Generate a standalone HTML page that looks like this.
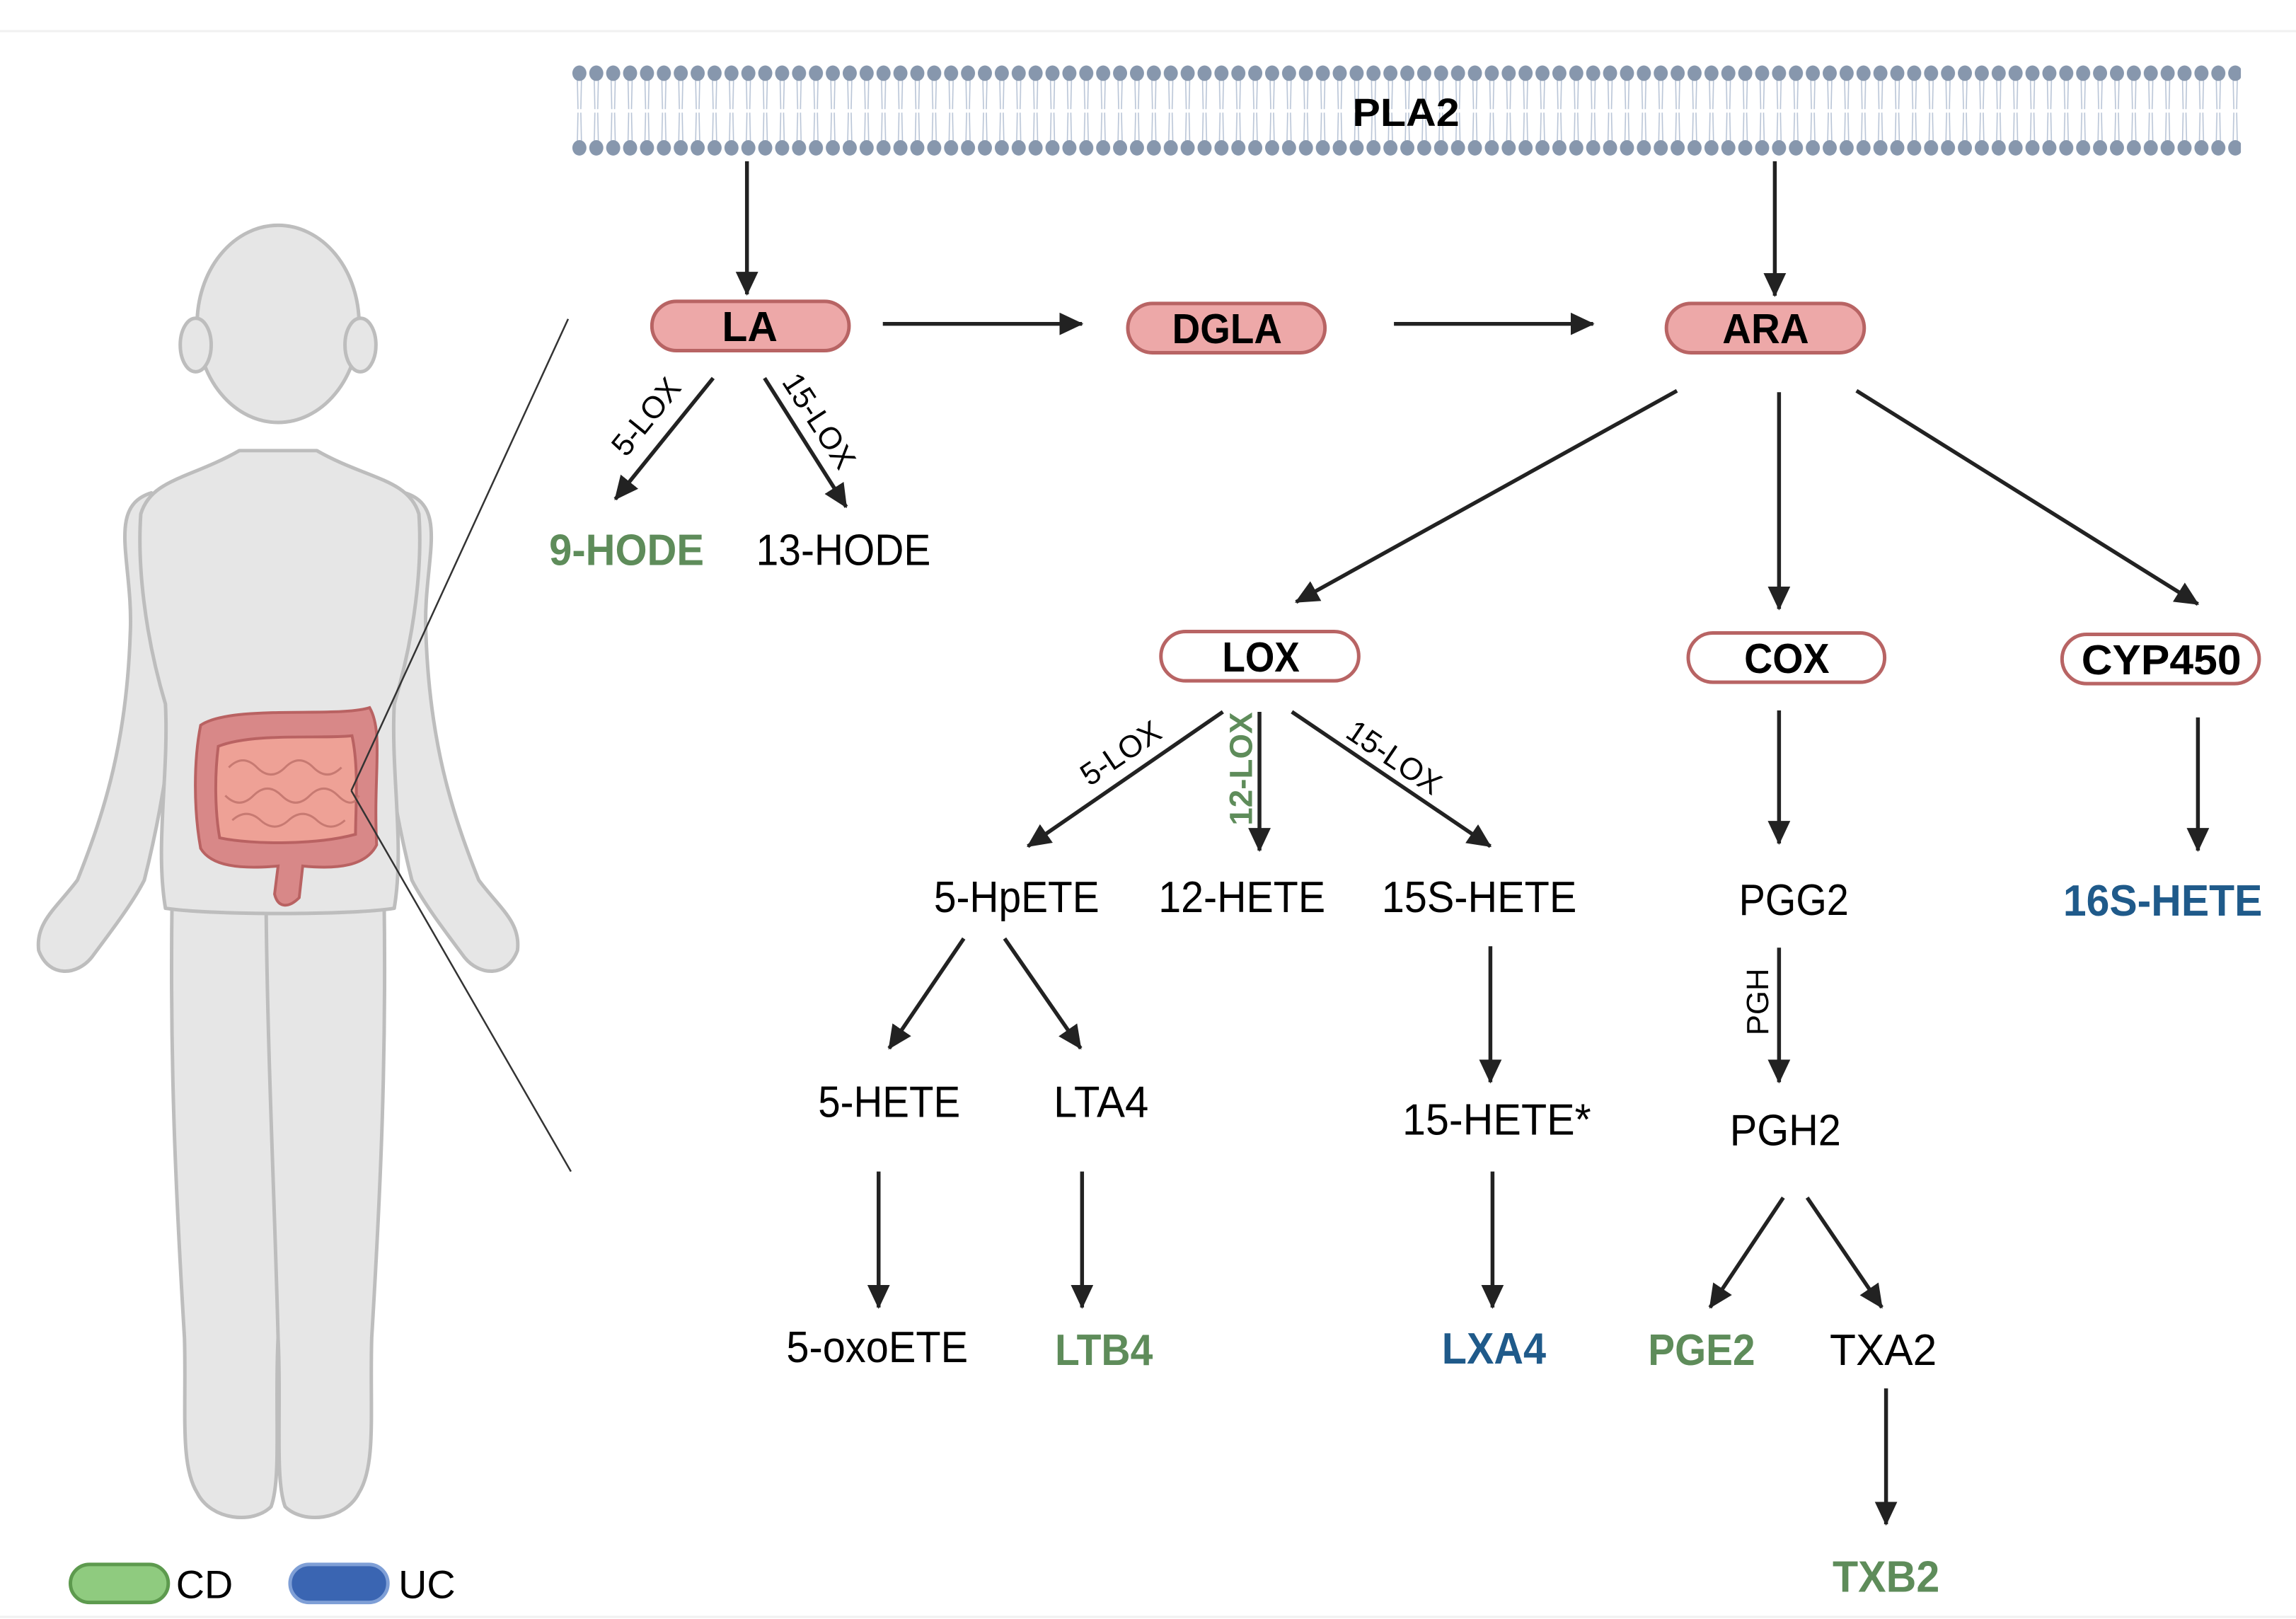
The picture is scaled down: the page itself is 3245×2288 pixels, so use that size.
<!DOCTYPE html>
<html><head><meta charset="utf-8">
<style>html,body{margin:0;padding:0;background:#fff}svg{display:block}</style></head>
<body>
<svg xmlns="http://www.w3.org/2000/svg" width="3245" height="2288" viewBox="0 0 3245 2288" font-family="'Liberation Sans', sans-serif">
<defs>
<marker id="ah" markerUnits="userSpaceOnUse" markerWidth="36" markerHeight="36" refX="32" refY="16" orient="auto">
<path d="M0,0 L34,16 L0,32 Z" fill="#222"/>
</marker>
<pattern id="mem" x="811" y="0" width="24" height="300" patternUnits="userSpaceOnUse">
<path d="M9,110 L10,155 M15,110 L14,155 M9,205 L10,160 M15,205 L14,160" stroke="#b8c4d6" stroke-width="1.6" fill="none"/>
<ellipse cx="12" cy="104" rx="10" ry="11" fill="#8797ad"/>
<ellipse cx="12" cy="210" rx="10" ry="11" fill="#8797ad"/>
</pattern>
</defs>
<line x1="0" y1="44" x2="3245" y2="44" stroke="#f0f0f0" stroke-width="3"/>
<line x1="0" y1="2285" x2="3245" y2="2285" stroke="#f0f0f0" stroke-width="3"/>
<g transform="scale(0.995)">
<!-- membrane -->
<rect x="811" y="88" width="2372" height="136" fill="url(#mem)"/>
<text x="1997" y="160" font-size="56" font-weight="bold" text-anchor="middle" dominant-baseline="central" textLength="152" lengthAdjust="spacingAndGlyphs">PLA2</text>

<!-- child -->
<g fill="#e6e6e6" stroke="#bdbdbd" stroke-width="5" stroke-linejoin="round">
<path d="M245,1240 C240,1500 250,1700 262,1900 C265,2000 255,2080 280,2120 C300,2160 360,2165 385,2140 C400,2100 390,2000 395,1900 C400,1700 410,1500 412,1290 Z"/>
<path d="M545,1240 C550,1500 540,1700 528,1900 C525,2000 535,2080 510,2120 C490,2160 430,2165 405,2140 C390,2100 400,2000 395,1900 C390,1700 380,1500 378,1290 Z"/>
<path d="M215,700 C150,720 190,800 185,900 C180,1050 150,1150 110,1250 C80,1290 50,1310 55,1350 C70,1390 110,1385 130,1360 C160,1320 190,1280 205,1250 C230,1150 245,1050 250,960 Z"/>
<path d="M575,700 C640,720 600,800 605,900 C610,1050 640,1150 680,1250 C710,1290 740,1310 735,1350 C720,1390 680,1385 660,1360 C630,1320 600,1280 585,1250 C560,1150 545,1050 540,960 Z"/>
<path d="M340,640 L450,640 C520,680 580,680 595,730 C600,800 590,900 560,1000 C555,1100 575,1200 560,1290 C500,1300 300,1300 235,1290 C220,1200 240,1100 235,1000 C205,900 195,800 200,730 C215,680 270,680 340,640 Z"/>
<ellipse cx="395" cy="460" rx="115" ry="140"/>
<ellipse cx="278" cy="490" rx="22" ry="38"/>
<ellipse cx="512" cy="490" rx="22" ry="38"/>
</g>
<g fill="#e6e6e6"><rect x="250" y="960" width="300" height="300"/></g>
<!-- intestine -->
<g stroke="#b96262" stroke-width="4">
<path d="M285,1030 C330,1000 480,1020 525,1005 C545,1040 530,1100 535,1200 C520,1230 480,1235 430,1230 L425,1275 C410,1290 395,1290 390,1270 L395,1230 C340,1235 300,1230 285,1205 C275,1150 275,1080 285,1030 Z" fill="#d88888"/>
<path d="M310,1060 C360,1040 460,1050 500,1045 C510,1090 505,1150 505,1185 C450,1200 360,1200 312,1190 C305,1150 305,1100 310,1060 Z" fill="#eea196"/>
</g>
<g stroke="#c77a72" stroke-width="3" fill="none">
<path d="M325,1090 q20,-20 40,0 t40,0 t40,0 t40,0"/>
<path d="M320,1130 q20,20 40,0 t40,0 t40,0 t40,0 t30,0"/>
<path d="M330,1165 q20,-18 40,0 t40,0 t40,0 t40,0"/>
</g>
<line x1="807" y1="453" x2="499" y2="1123" stroke="#333" stroke-width="2.5"/>
<line x1="499" y1="1123" x2="811" y2="1664" stroke="#333" stroke-width="2.5"/>

<!-- legend -->
<rect x="100" y="2222" width="139" height="54" rx="27" fill="#8fcb7f" stroke="#5d9a4e" stroke-width="5"/>
<text x="250" y="2251" font-size="56" dominant-baseline="central">CD</text>
<rect x="412" y="2222" width="139" height="54" rx="27" fill="#3a65b2" stroke="#7f9fd6" stroke-width="5"/>
<text x="566" y="2251" font-size="56" dominant-baseline="central">UC</text>

<!-- pills -->
<g stroke="#b86464" stroke-width="5">
<rect x="926" y="428" width="280" height="70" rx="35" fill="#eda8a8"/>
<rect x="1602" y="431" width="280" height="70" rx="35" fill="#eda8a8"/>
<rect x="2367" y="431" width="281" height="70" rx="35" fill="#eda8a8"/>
<rect x="1649" y="897" width="281" height="70" rx="35" fill="#fff"/>
<rect x="2398" y="899" width="279" height="70" rx="35" fill="#fff"/>
<rect x="2929" y="901" width="280" height="70" rx="35" fill="#fff"/>
</g>
<g font-size="60" font-weight="bold" text-anchor="middle" dominant-baseline="central">
<text x="1065" y="464" textLength="79" lengthAdjust="spacingAndGlyphs">LA</text>
<text x="1743" y="467" textLength="156" lengthAdjust="spacingAndGlyphs">DGLA</text>
<text x="2508" y="467" textLength="123" lengthAdjust="spacingAndGlyphs">ARA</text>
<text x="1791" y="933" textLength="110" lengthAdjust="spacingAndGlyphs">LOX</text>
<text x="2538" y="935" textLength="121" lengthAdjust="spacingAndGlyphs">COX</text>
<text x="3070" y="937" textLength="227" lengthAdjust="spacingAndGlyphs">CYP450</text>
</g>

<!-- arrows -->
<g stroke="#222" stroke-width="5.5" marker-end="url(#ah)" fill="none">
<line x1="1061" y1="229" x2="1061" y2="418"/>
<line x1="2521" y1="229" x2="2521" y2="420"/>
<line x1="1254" y1="460" x2="1537" y2="460"/>
<line x1="1980" y1="460" x2="2263" y2="460"/>
<line x1="1013" y1="537" x2="874" y2="709"/>
<line x1="1086" y1="537" x2="1202" y2="720"/>
<line x1="2382" y1="555" x2="1841" y2="855"/>
<line x1="2527" y1="557" x2="2527" y2="865"/>
<line x1="2637" y1="555" x2="3122" y2="858"/>
<line x1="1737" y1="1011" x2="1460" y2="1202"/>
<line x1="1789" y1="1011" x2="1789" y2="1208"/>
<line x1="1835" y1="1011" x2="2117" y2="1202"/>
<line x1="2527" y1="1009" x2="2527" y2="1198"/>
<line x1="3122" y1="1019" x2="3122" y2="1208"/>
<line x1="1369" y1="1333" x2="1263" y2="1489"/>
<line x1="1427" y1="1333" x2="1535" y2="1489"/>
<line x1="2117" y1="1344" x2="2117" y2="1537"/>
<line x1="2527" y1="1346" x2="2527" y2="1537"/>
<line x1="1248" y1="1664" x2="1248" y2="1857"/>
<line x1="1537" y1="1664" x2="1537" y2="1857"/>
<line x1="2120" y1="1664" x2="2120" y2="1857"/>
<line x1="2533" y1="1701" x2="2429" y2="1857"/>
<line x1="2567" y1="1701" x2="2673" y2="1857"/>
<line x1="2679" y1="1972" x2="2679" y2="2165"/>
</g>

<!-- enzyme labels -->
<g font-size="44" text-anchor="middle" dominant-baseline="central">
<text transform="translate(918,592) rotate(-51)">5-LOX</text>
<text transform="translate(1163,598) rotate(57)">15-LOX</text>
<text transform="translate(1592,1070) rotate(-34)">5-LOX</text>
<text transform="translate(1980,1076) rotate(34)">15-LOX</text>
<text transform="translate(1763,1092) rotate(-90)" fill="#5e8c5a" font-weight="bold" font-size="46">12-LOX</text>
<text transform="translate(2497,1423) rotate(-90)">PGH</text>
</g>

<!-- metabolites -->
<g font-size="62" text-anchor="middle" dominant-baseline="central">
<text x="890" y="782" font-weight="bold" fill="#5e8c5a" textLength="220" lengthAdjust="spacingAndGlyphs">9-HODE</text>
<text x="1198" y="782" textLength="248" lengthAdjust="spacingAndGlyphs">13-HODE</text>
<text x="1444" y="1275" textLength="235" lengthAdjust="spacingAndGlyphs">5-HpETE</text>
<text x="1764" y="1275" textLength="237" lengthAdjust="spacingAndGlyphs">12-HETE</text>
<text x="2101" y="1275" textLength="277" lengthAdjust="spacingAndGlyphs">15S-HETE</text>
<text x="2548" y="1279" textLength="156" lengthAdjust="spacingAndGlyphs">PGG2</text>
<text x="3072" y="1280" font-weight="bold" fill="#1f5a8a" textLength="283" lengthAdjust="spacingAndGlyphs">16S-HETE</text>
<text x="1263" y="1566" textLength="202" lengthAdjust="spacingAndGlyphs">5-HETE</text>
<text x="1564" y="1566" textLength="135" lengthAdjust="spacingAndGlyphs">LTA4</text>
<text x="2126" y="1591" textLength="268" lengthAdjust="spacingAndGlyphs">15-HETE*</text>
<text x="2536" y="1606" textLength="158" lengthAdjust="spacingAndGlyphs">PGH2</text>
<text x="1246" y="1914" textLength="258" lengthAdjust="spacingAndGlyphs">5-oxoETE</text>
<text x="1568" y="1918" font-weight="bold" fill="#5e8c5a" textLength="139" lengthAdjust="spacingAndGlyphs">LTB4</text>
<text x="2122" y="1916" font-weight="bold" fill="#1f5a8a" textLength="148" lengthAdjust="spacingAndGlyphs">LXA4</text>
<text x="2417" y="1918" font-weight="bold" fill="#5e8c5a" textLength="152" lengthAdjust="spacingAndGlyphs">PGE2</text>
<text x="2675" y="1918" textLength="152" lengthAdjust="spacingAndGlyphs">TXA2</text>
<text x="2679" y="2240" font-weight="bold" fill="#5e8c5a" textLength="152" lengthAdjust="spacingAndGlyphs">TXB2</text>
</g>
</g>
</svg>
</body></html>
